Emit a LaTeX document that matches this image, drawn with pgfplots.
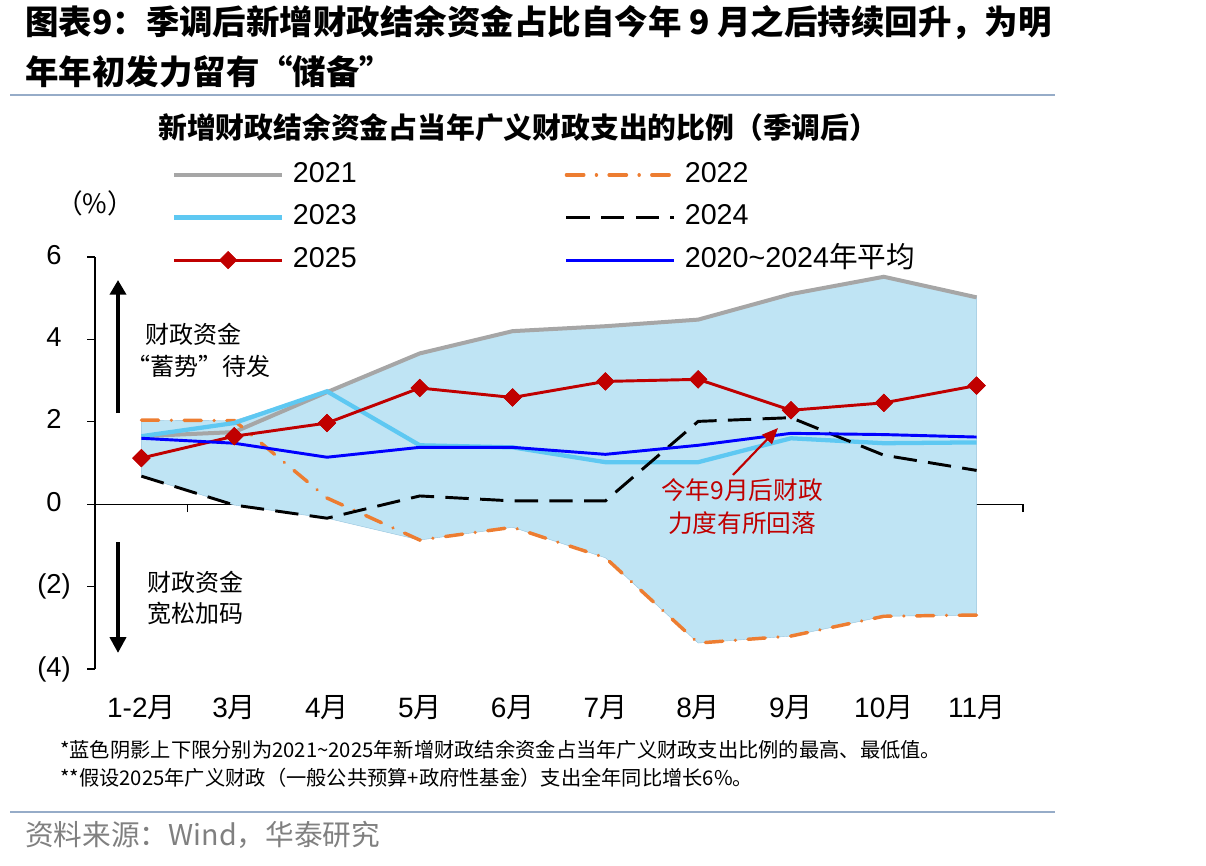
\documentclass[border=0pt]{standalone}
\usepackage{fontspec}
\setmainfont{Liberation Sans}
\newfontfamily\cjk{Noto Sans CJK SC}
\usepackage{pgfplots}
\pgfplotsset{compat=1.18}
\usetikzlibrary{arrows.meta}
\definecolor{c2021}{RGB}{166,166,166}
\definecolor{c2022}{RGB}{237,125,49}
\definecolor{c2023}{RGB}{94,200,242}
\definecolor{c2024}{RGB}{0,0,0}
\definecolor{c2025}{RGB}{192,0,0}
\definecolor{cavg}{RGB}{0,0,255}
\definecolor{shade}{RGB}{191,228,244}
\definecolor{shadeedge}{RGB}{150,196,222}
\definecolor{rulecol}{RGB}{150,172,200}
\definecolor{srcgrey}{RGB}{128,128,128}

\begin{document}
\begin{tikzpicture}[x=0.75pt,y=-0.75pt]
\useasboundingbox (0,0) rectangle (1206,866);
% titles
\node[anchor=west, inner sep=0pt, font=\cjk\bfseries\fontsize{25.1pt}{27pt}\selectfont] at (25,23) {图表9：季调后新增财政结余资金占比自今年 9 月之后持续回升，为明};
\node[anchor=west, inner sep=0pt, font=\cjk\bfseries\fontsize{25.1pt}{27pt}\selectfont] at (25,72) {年年初发力留有“储备”};
\draw[rulecol, line width=2pt] (10,95) -- (1055,95);
\node[anchor=west, inner sep=0pt, font=\cjk\bfseries\fontsize{21.6pt}{23pt}\selectfont] at (158,128) {新增财政结余资金占当年广义财政支出的比例（季调后）};
\node[inner sep=0pt, font=\cjk\fontsize{20pt}{22pt}\selectfont] at (95,203) {（\%）};

\begin{axis}[
  at={(71.25pt,-501.75pt)}, anchor=south west,
  scale only axis, width=696pt, height=309pt,
  xmin=-0.5, xmax=9.5, ymin=-4, ymax=6,
  axis x line=middle, axis y line=left,
  axis line style={-, black, line width=0.8pt},
  xtick={0,...,9},
  xticklabels={{1-2\cjk 月},{3\cjk 月},{4\cjk 月},{5\cjk 月},{6\cjk 月},{7\cjk 月},{8\cjk 月},{9\cjk 月},{10\cjk 月},{11\cjk 月}},
  major x tick style={draw=none},
  minor xtick={-0.5,0.5,...,9.5},
  minor x tick style={black, line width=0.8pt},
  minor tick length=6pt,
  ytick={-4,-2,0,2,4,6},
  yticklabels={(4),(2),0\phantom{)},2\phantom{)},4\phantom{)},6\phantom{)}},
  major tick length=6pt,
  tick align=outside,
  ytick style={black, line width=0.8pt},
  xticklabel style={font=\fontsize{21pt}{24pt}\selectfont, anchor=base, yshift=-153.75pt},
  yticklabel style={font=\fontsize{20.5pt}{24pt}\selectfont, anchor=east, inner sep=0pt, xshift=-12pt},
  clip=false,
  legend columns=2,
  legend cell align=left,
  legend style={
    at={(axis description cs:0.083,1.233)}, anchor=north west,
    draw=none, fill=none, inner sep=0pt, outer sep=0pt,
    font=\fontsize{21.5pt}{24pt}\selectfont,
    row sep=10.9pt,
    nodes={inner sep=0pt, text height=16pt, text depth=5pt},
    /tikz/every odd column/.append style={column sep=6.5pt},
    /tikz/every even column/.append style={column sep=156pt},
  },
  legend image code/.code={\draw[mark repeat=2,mark phase=2,#1] plot coordinates {(0pt,0pt) (40.5pt,0pt) (81pt,0pt)};},
]
% shaded envelope (max / min of 2021-2025)
\addplot[fill=shade, draw=shadeedge, line width=0.3pt, forget plot] coordinates {
 (0,2.04) (1,2.03) (2,2.74) (3,3.66) (4,4.20) (5,4.32) (6,4.48) (7,5.10) (8,5.52) (9,5.02)
 (9,-2.69) (8,-2.72) (7,-3.20) (6,-3.37) (5,-1.30) (4,-0.56) (3,-0.87) (2,-0.34) (1,-0.02) (0,0.68)} -- cycle;

\addplot[c2021, line width=3pt, mark=none] coordinates {
 (0,1.65) (1,1.75) (2,2.72) (3,3.66) (4,4.20) (5,4.32) (6,4.48) (7,5.10) (8,5.52) (9,5.02)};
\addlegendentry{2021}
\addplot[c2022, line width=2.6pt, line cap=round, dash pattern=on 13pt off 9.5pt on 0.01pt off 9.5pt, mark=none] coordinates {
 (0,2.04) (1,2.03) (2,0.15) (3,-0.87) (4,-0.56) (5,-1.30) (6,-3.37) (7,-3.20) (8,-2.72) (9,-2.69)};
\addlegendentry{2022}
\addplot[c2023, line width=3.2pt, mark=none] coordinates {
 (0,1.65) (1,1.97) (2,2.74) (3,1.43) (4,1.38) (5,1.02) (6,1.02) (7,1.60) (8,1.48) (9,1.50)};
\addlegendentry{2023}
\addplot[c2024, line width=2.2pt, dash pattern=on 17.5pt off 8.5pt, mark=none] coordinates {
 (0,0.68) (1,-0.02) (2,-0.34) (3,0.20) (4,0.08) (5,0.08) (6,2.01) (7,2.10) (8,1.19) (9,0.82)};
\addlegendentry{2024}
\addplot[c2025, line width=2.2pt, mark=square*, mark size=4.6pt, mark options={solid, rotate=45, line width=0.5pt, fill=c2025, draw=c2025}] coordinates {
 (0,1.12) (1,1.65) (2,1.97) (3,2.82) (4,2.59) (5,2.98) (6,3.03) (7,2.28) (8,2.46) (9,2.88)};
\addlegendentry{2025}
\addplot[cavg, line width=2.2pt, mark=none] coordinates {
 (0,1.60) (1,1.48) (2,1.14) (3,1.38) (4,1.38) (5,1.21) (6,1.43) (7,1.72) (8,1.69) (9,1.63)};
\addlegendentry{2020\textasciitilde 2024{\cjk 年平均}}
% diamonds on top
\addplot[c2025, draw=none, mark=square*, mark size=4.6pt, mark options={solid, rotate=45, line width=0.5pt, fill=c2025, draw=c2025}, forget plot] coordinates {
 (0,1.12) (1,1.65) (2,1.97) (3,2.82) (4,2.59) (5,2.98) (6,3.03) (7,2.28) (8,2.46) (9,2.88)};
\end{axis}

% annotations
\draw[line width=3pt, -{Triangle[width=12pt,length=11pt]}] (118,413) -- (118,280);
\draw[line width=3pt, -{Triangle[width=12pt,length=12pt]}] (118,542) -- (118,653);
\node[anchor=west, inner sep=0pt, font=\cjk\fontsize{18pt}{20pt}\selectfont] at (145,334) {财政资金};
\node[anchor=west, inner sep=0pt, font=\cjk\fontsize{18pt}{20pt}\selectfont] at (126,366) {“蓄势”待发};
\node[anchor=west, inner sep=0pt, font=\cjk\fontsize{18pt}{20pt}\selectfont] at (147,582) {财政资金};
\node[anchor=west, inner sep=0pt, font=\cjk\fontsize{18pt}{20pt}\selectfont] at (147,613) {宽松加码};
\node[inner sep=0pt, text=c2025, font=\cjk\fontsize{18.5pt}{20pt}\selectfont] at (742,490) {今年9月后财政};
\node[inner sep=0pt, text=c2025, font=\cjk\fontsize{18.5pt}{20pt}\selectfont] at (742,523) {力度有所回落};
\draw[c2025, line width=1.6pt, -{Triangle[width=10pt,length=12pt]}] (733,475) -- (778,428);

% footnotes
\node[anchor=west, inner sep=0pt, font=\cjk\fontsize{15.2pt}{17pt}\selectfont] at (60,750) {*蓝色阴影上下限分别为2021\textasciitilde 2025年新增财政结余资金占当年广义财政支出比例的最高、最低值。};
\node[anchor=west, inner sep=0pt, font=\cjk\fontsize{15.2pt}{17pt}\selectfont] at (60,778) {**假设2025年广义财政（一般公共预算+政府性基金）支出全年同比增长6\%。};
\draw[rulecol, line width=2pt] (10,812) -- (1055,812);
\node[anchor=west, inner sep=0pt, text=srcgrey, font=\cjk\fontsize{21.5pt}{23pt}\selectfont] at (25,835) {资料来源：Wind，华泰研究};
\end{tikzpicture}
\end{document}
